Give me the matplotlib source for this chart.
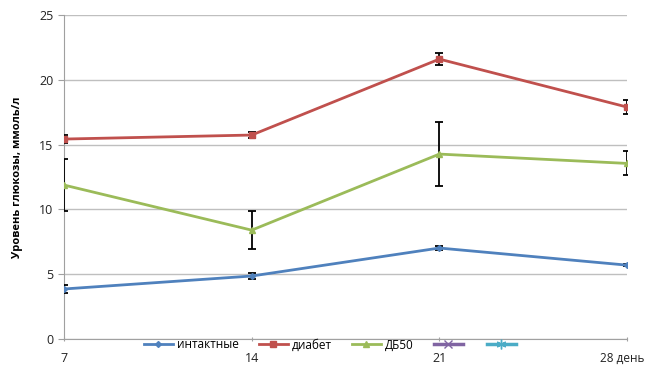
import matplotlib
matplotlib.use("Agg")
import matplotlib.pyplot as plt
from matplotlib.lines import Line2D
from matplotlib.transforms import ScaledTranslation

days = [7, 14, 21, 28]
day_labels = ["7", "14", "21", "28 день"]
intact = [3.86, 4.86, 7.02, 5.70]
intact_err = [0.3, 0.2, 0.12, 0.1]
diabet = [15.43, 15.74, 21.6, 17.9]
diabet_err = [0.3, 0.25, 0.45, 0.55]
db50 = [11.88, 8.4, 14.27, 13.55]
db50_err = [2.0, 1.45, 2.45, 0.93]
labels = ["интактные", "диабет", "ДБ50", "", ""]
colors = ["#4F81BD", "#C0504D", "#9BBB59", "#8064A2", "#4BACC6"]

plt.rcParams['font.family'] = ['Open Sans', 'DejaVu Sans']
fig = plt.figure(figsize=(6.48, 3.67), dpi=100)
ax = fig.add_axes([0.0988, 0.0763, 0.8688, 0.8827])

series = [(intact, intact_err, 'D', 3), (diabet, diabet_err, 's', 5), (db50, db50_err, '^', 5)]
for i, (vals, err, m, ms) in enumerate(series):
    ax.errorbar(days, vals, yerr=err, color=colors[i], marker=m, markersize=ms,
                lw=2, ecolor='black', elinewidth=1.3, capsize=3, capthick=1.3, zorder=3)

ax.set_xlim(7, 28)
ax.set_ylim(0, 25)
ax.set_yticks([0, 5, 10, 15, 20, 25])
ax.set_xticks(days)
ax.set_xticklabels(day_labels)
ax.yaxis.grid(True, color='#BFBFBF', lw=1)
ax.set_axisbelow(True)
for s in ['top', 'right']:
    ax.spines[s].set_visible(False)
ax.spines['left'].set_color('#A0A0A0')
ax.spines['bottom'].set_color('#A0A0A0')
ax.tick_params(axis='y', length=4, color='#A0A0A0', labelsize=9)
ax.tick_params(axis='x', length=3, direction='inout', color='#A0A0A0', labelsize=9, pad=8)
for lab in ax.get_yticklabels() + ax.get_xticklabels():
    lab.set_color('#222222')
last = ax.get_xticklabels()[-1]
last.set_fontsize(8.5)
last.set_transform(last.get_transform() + ScaledTranslation(-5 / 100, 0, fig.dpi_scale_trans))
ax.set_ylabel("Уровень глюкозы, ммоль/л", fontsize=8, fontweight='bold', labelpad=12)

handles = [
    Line2D([], [], color=colors[0], marker='D', markersize=3, lw=2),
    Line2D([], [], color=colors[1], marker='s', markersize=5, lw=2),
    Line2D([], [], color=colors[2], marker='^', markersize=5, lw=2),
    Line2D([], [], color=colors[3], marker='x', markersize=6, lw=2.5),
    Line2D([], [], color=colors[4], marker=(6, 2, 0), markersize=7, lw=2.5),
]
fig.legend(handles, labels, loc='center', bbox_to_anchor=(0.512, 0.060), ncol=5,
           frameon=False, fontsize=8.5, handlelength=2.45, columnspacing=1.7, handletextpad=0.35,
           borderpad=0)

fig.savefig("out.png", dpi=100)
